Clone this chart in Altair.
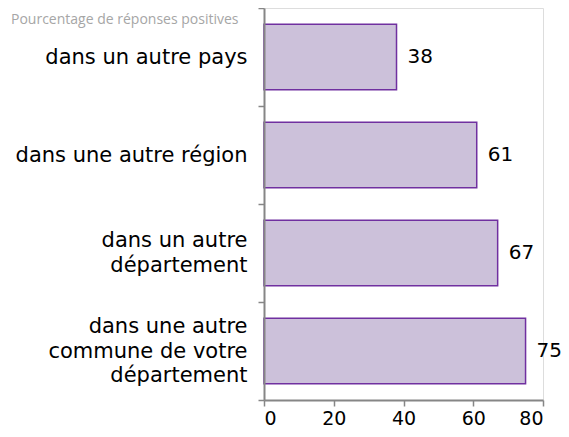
import altair as alt
import pandas as pd

categories = [
    "dans un autre pays",
    "dans une autre région",
    "dans un autre|département",
    "dans une autre|commune de votre|département",
]
values = [38, 61, 67, 75]
x_ticks = [0, 20, 40, 60, 80]
title_text = "Pourcentage de réponses positives"

df = pd.DataFrame({"cat": categories, "val": values})

FONT = "DejaVu Sans"
AXIS_GREY = "#868686"
LINE_H = 24.5

y_enc = alt.Y(
    "cat:N",
    sort=categories,
    scale=alt.Scale(paddingInner=0, paddingOuter=0),
    axis=alt.Axis(
        title=None,
        labelExpr="split(datum.label, '|')",
        labelFont=FONT,
        labelFontSize=21,
        labelColor="#000000",
        labelLineHeight=LINE_H,
        labelOffset={
            "condition": [
                {"test": "length(split(datum.value, '|')) == 3", "value": -LINE_H},
                {"test": "length(split(datum.value, '|')) == 2", "value": -LINE_H / 2},
            ],
            "value": 0,
        },
        labelPadding=11,
        labelLimit=300,
        tickBand="extent",
        tickSize=6,
        tickColor=AXIS_GREY,
        tickWidth=1.5,
        domainColor=AXIS_GREY,
        domainWidth=2,
        grid=False,
        zindex=2,
    ),
)

x_enc = alt.X(
    "val:Q",
    scale=alt.Scale(domain=[0, 80], nice=False),
    axis=alt.Axis(
        title=None,
        values=x_ticks,
        labelFont=FONT,
        labelFontSize=19,
        labelColor="#000000",
        labelPadding=3,
        tickSize=6,
        tickColor=AXIS_GREY,
        tickWidth=1.5,
        domainColor=AXIS_GREY,
        domainWidth=2,
        grid=False,
        zindex=2,
    ),
)

bars = alt.Chart(df).mark_bar(
    fill="#CCC1DA", stroke="#7030A0", strokeWidth=1.5, height={"band": 0.67}
).encode(x=x_enc, y=y_enc)

labels = alt.Chart(df).mark_text(
    align="left", baseline="middle", dx=11, font=FONT, fontSize=20, color="#000000"
).encode(x="val:Q", y=alt.Y("cat:N", sort=categories), text="val:Q")

title = alt.Chart(alt.Data(values=[{"t": title_text}])).mark_text(
    align="left", baseline="top", font="Open Sans", fontSize=14, color="#A6A6A6"
).encode(x=alt.value(-253), y=alt.value(5), text="t:N")

chart = (
    alt.layer(bars, labels, title)
    .properties(
        width=279,
        height=392,
        autosize=alt.AutoSizeParams(type="none"),
        padding={"left": 256, "top": 0, "right": 18, "bottom": 29},
    )
    .configure_view(stroke=None)
    .configure(background="white")
)

chart.save("out.html", embed_options={"renderer": "svg", "actions": False})
